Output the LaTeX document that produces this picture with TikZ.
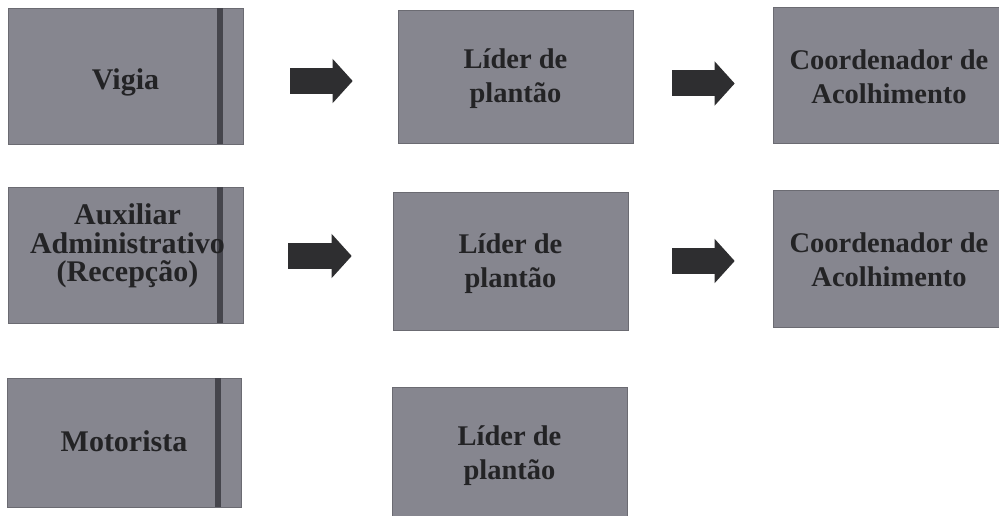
\documentclass[tikz,border=0pt]{standalone}
\usepackage{fontspec}
\setmainfont{Liberation Serif}
\usetikzlibrary{arrows.meta}
\definecolor{boxgray}{HTML}{86868F}
\definecolor{stripegray}{HTML}{45454C}
\definecolor{txtgray}{HTML}{232325}
\definecolor{arrowgray}{HTML}{2E2E30}
\tikzset{
  role/.style={rectangle, fill=boxgray, draw=boxgray!80!black, line width=0.6pt,
    inner sep=0pt},
  rolelabel/.style={align=center, text=txtgray, inner sep=0pt,
    font=\fontsize{28.5}{34}\selectfont\bfseries},
  biglabel/.style={rolelabel, font=\fontsize{30}{28.5}\selectfont\bfseries},
  stripe/.style={fill=stripegray},
  blockarrow/.style={draw=arrowgray, line width=26pt,
    -{Triangle[length=20pt,width=43pt,fill=arrowgray]}},
}
\begin{document}
\begin{tikzpicture}[x=1pt,y=-1pt]
\useasboundingbox (0,0) rectangle (999,516);
% boxes
\node[role, minimum width=235pt, minimum height=136pt] (v)  at (125.5,76)   {};
\node[role, minimum width=235pt, minimum height=133pt] (l1) at (515.5,76.5) {};
\node[role, minimum width=228pt, minimum height=136pt] (c1) at (887,75)     {};
\node[role, minimum width=235pt, minimum height=136pt] (a)  at (125.5,255)  {};
\node[role, minimum width=235pt, minimum height=138pt] (l2) at (510.5,261)  {};
\node[role, minimum width=228pt, minimum height=137pt] (c2) at (887,258.5)  {};
\node[role, minimum width=234pt, minimum height=129pt] (m)  at (124,442.5)  {};
\node[role, minimum width=235pt, minimum height=140pt] (l3) at (509.5,457)  {};
% dark stripes near the right edge of the left boxes
\foreach \n in {v,a,m}{
  \fill[stripe] ([xshift=-26pt]\n.north east) rectangle ([xshift=-20pt]\n.south east);
}
% labels
\node[biglabel]  (tv)  at ([yshift=-6pt]v.center)             {Vigia};
\node[rolelabel] (tl1) at ([yshift=-2pt]l1.center)            {Líder de\\plantão};
\node[rolelabel] (tc1) at ([xshift=2pt,yshift=-2pt]c1.center) {Coordenador de\\Acolhimento};
\node[biglabel]  (ta)  at ([xshift=2pt,yshift=9pt]a.center)   {Auxiliar\\Administrativo\\(Recepção)};
\node[rolelabel] (tl2) at ([yshift=-3pt]l2.center)            {Líder de\\plantão};
\node[rolelabel] (tc2) at ([xshift=2pt,yshift=-1pt]c2.center) {Coordenador de\\Acolhimento};
\node[biglabel]  (tm)  at ([yshift=1pt]m.center)              {Motorista};
\node[rolelabel] (tl3) at ([yshift=1pt]l3.center)             {Líder de\\plantão};
% block arrows
\draw[blockarrow] ([xshift=47pt,yshift=-5pt]v.east)  -- ([xshift=-45pt,yshift=-4.5pt]l1.west);
\draw[blockarrow] ([xshift=39pt,yshift=-7pt]l1.east) -- ([xshift=-38pt,yshift=-8.5pt]c1.west);
\draw[blockarrow] ([xshift=45pt,yshift=-1pt]a.east)  -- ([xshift=-41pt,yshift=5pt]l2.west);
\draw[blockarrow] ([xshift=44pt,yshift=0pt]l2.east)  -- ([xshift=-38pt,yshift=-2.5pt]c2.west);
\end{tikzpicture}
\end{document}
